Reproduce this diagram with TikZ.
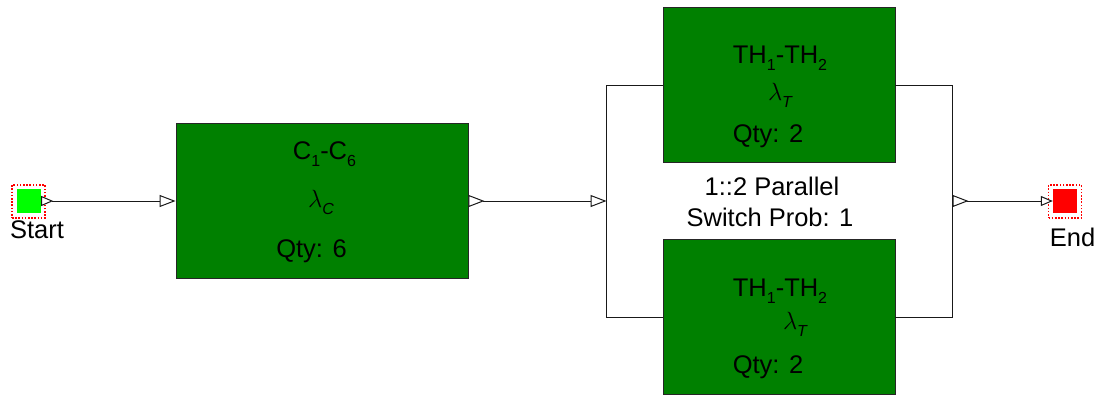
\documentclass[tikz,border=0pt]{standalone}
\usepackage{fontspec}
\setmainfont{Liberation Sans}
\usetikzlibrary{arrows.meta,positioning}
\definecolor{boxgreen}{RGB}{0,128,0}
\definecolor{startgreen}{RGB}{0,255,0}
\definecolor{endred}{RGB}{255,0,0}
\newcommand\sbsc[1]{\raisebox{-7pt}{\fontsize{16}{16}\selectfont #1}}
\newcommand\lam[1]{$\lambda$\sbsc{\itshape #1}}
\tikzset{
  bigtip/.tip={Triangle[open, length=16pt, width=12pt, fill=white]},
  bigtipr/.tip={Triangle[open, length=16pt, width=12pt, fill=white, reversed]},
  smalltip/.tip={Triangle[open, length=12pt, width=10pt, fill=white]},
  smalltipr/.tip={Triangle[open, length=12pt, width=10pt, fill=white, reversed]}
}
\begin{document}
\begin{tikzpicture}[x=1pt,y=-1pt,
  blockbox/.style={draw=black!85, line width=0.9pt, fill=boxgreen, minimum width=292pt, minimum height=155pt, inner sep=0pt},
  tblock/.style={draw=black!85, line width=0.9pt, fill=boxgreen, minimum width=232pt, minimum height=155pt, inner sep=0pt},
  txt/.style={anchor=base, inner sep=0pt, font=\fontsize{25.5}{30}\selectfont},
  dotb/.style={draw=endred, line width=1.6pt, dash pattern=on 1.6pt off 1.6pt, minimum size=33pt, inner sep=0pt},
  conn/.style={line width=1pt, draw=black!90}
]
\useasboundingbox (0,0) rectangle (1101,394);

% start / end terminals
\node[dotb] (startb) at (28.5,201.5) {};
\node[fill=startgreen, minimum size=24pt, inner sep=0pt] (start) at (29,201) {};
\node[txt] (startl) at (37,238) {Start};
\node[dotb] (endb) at (1065,201.5) {};
\node[fill=endred, minimum size=24pt, inner sep=0pt] (end) at (1065,201) {};
\node[txt] (endl) at (1072.5,246) {End};

% blocks
\node[blockbox] (cbox) at (322,201) {};
\node[tblock] (top) at (779,85) {};
\node[tblock] (bot) at (779,317) {};

% texts
\node[txt] (c1) at (324.5,159) {C\sbsc{1}-C\sbsc{6}};
\node[txt] (c2) at (321,207) {\lam{C}};
\node[txt] (c3) at (311.5,257) {Qty: 6};
\node[txt] (t1) at (780,63) {TH\sbsc{1}-TH\sbsc{2}};
\node[txt] (t2) at (780,100) {\lam{T}};
\node[txt] (t3) at (768,142) {Qty: 2};
\node[txt] (b1) at (780,296) {TH\sbsc{1}-TH\sbsc{2}};
\node[txt] (b2) at (795,329) {\lam{T}};
\node[txt] (b3) at (768,373) {Qty: 2};
\node[txt] (m1) at (772,195) {1::2 Parallel};
\node[txt] (m2) at (770,226) {Switch Prob: 1};

% junctions
\coordinate (jl) at (606.5,201);
\coordinate (jr) at (952.5,201);

% connectors
\draw[conn, {smalltipr}-{bigtip}] (start.east) -- (cbox.west);
\draw[conn, {bigtipr}-{bigtip}] (cbox.east) -- (jl);
\draw[conn] (top.west) -| (jl) |- (bot.west);
\draw[conn] (top.east) -| (jr) |- (bot.east);
\draw[conn, {bigtipr}-{smalltip}] (jr) -- (end.west);
\end{tikzpicture}
\end{document}
